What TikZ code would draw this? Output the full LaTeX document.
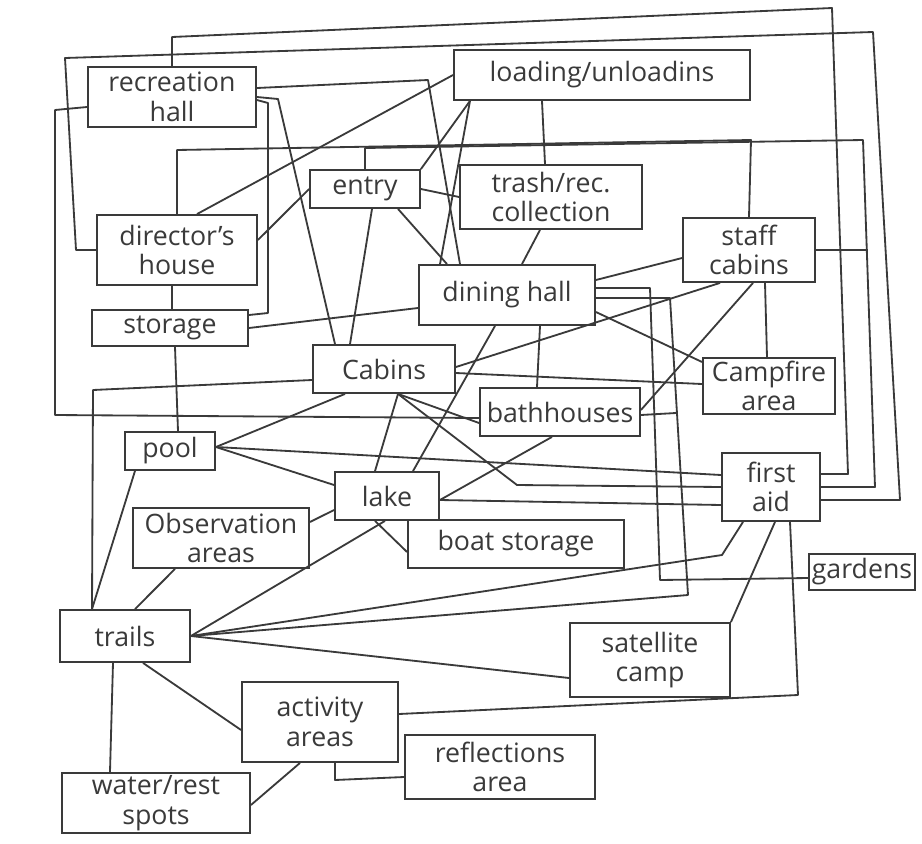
\documentclass[tikz,border=0pt]{standalone}
\usepackage{fontspec}
\setmainfont{Open Sans}
\definecolor{ink}{HTML}{3A3A3A}
\begin{document}
\begin{tikzpicture}[x=0.025cm,y=-0.025cm]
    \tikzstyle{place} = [rectangle, draw=ink, line width=1.3pt, align=center,
        inner sep=2pt, text=ink, font=\fontsize{19}{21}\selectfont]
    \tikzstyle{link} = [draw=ink, line width=1.3pt, line join=round]

    \useasboundingbox (0,0) rectangle (922,843);

    \node(rechall) [place, minimum width=4.2cm, minimum height=1.5cm]
        at (172,97) {recreation\\hall};
    \node(loading) [place, minimum width=7.4cm, minimum height=1.25cm]
        at (602,75) {loading/unloadins};
    \node(entry) [place, minimum width=2.75cm, minimum height=0.95cm]
        at (365,189) {entry};
    \node(trash) [place, minimum width=4.55cm, minimum height=1.6cm]
        at (551,197) {trash/rec.\\collection};
    \node(director) [place, minimum width=4cm, minimum height=1.75cm]
        at (177,250) {director's\\house};
    \node(storage) [place, minimum width=3.9cm, minimum height=0.9cm]
        at (170,328) {storage};
    \node(dining) [place, minimum width=4.4cm, minimum height=1.5cm]
        at (507,295) {dining hall};
    \node(staff) [place, minimum width=3.3cm, minimum height=1.6cm]
        at (749,250) {staff\\cabins};
    \node(cabins) [place, minimum width=3.55cm, minimum height=1.2cm]
        at (384,369) {Cabins};
    \node(campfire) [place, minimum width=3.3cm, minimum height=1.4cm]
        at (769,386) {Campfire\\area};
    \node(bath) [place, minimum width=4cm, minimum height=1.2cm]
        at (560,412) {bathhouses};
    \node(pool) [place, minimum width=2.25cm, minimum height=0.95cm]
        at (170,451) {pool};
    \node(firstaid) [place, minimum width=2.45cm, minimum height=1.7cm]
        at (771,487) {first\\aid};
    \node(lake) [place, minimum width=2.6cm, minimum height=1.2cm]
        at (387,496) {lake};
    \node(obs) [place, minimum width=4.4cm, minimum height=1.5cm]
        at (221,538) {Observation\\areas};
    \node(boat) [place, minimum width=5.4cm, minimum height=1.2cm]
        at (516,544) {boat storage};
    \node(gardens) [place, minimum width=2.6cm, minimum height=0.9cm]
        at (862,572) {gardens};
    \node(trails) [place, minimum width=3.25cm, minimum height=1.3cm]
        at (125,636) {trails};
    \node(satellite) [place, minimum width=4cm, minimum height=1.85cm]
        at (650,660) {satellite\\camp};
    \node(activity) [place, minimum width=3.9cm, minimum height=2cm]
        at (320,722) {activity\\areas};
    \node(reflections) [place, minimum width=4.75cm, minimum height=1.6cm]
        at (500,767) {reflections\\area};
    \node(water) [place, minimum width=4.7cm, minimum height=1.5cm]
        at (156,803) {water/rest\\spots};

    % long loops round the outside
    \draw[link] (rechall.north) -- (172,37) -- (832,8) -- (848,474)
        -- (firstaid.east |- 0,474);
    \draw[link] (director.west) -- (76,250) -- (65,58) -- (873,32)
        -- (900,500) -- (firstaid.east |- 0,500);
    \draw[link] (entry.north) -- (365,148) -- (863,140) -- (875,487)
        -- (firstaid.east);
    \draw[link] (staff.east) -- (868,250);
    \draw[link] (director.north) -- (177,150) -- (751,140) -- (staff.north);

    \draw[link] (rechall.east |- 0,88) -- (428,80) -- (dining.north -| 460,0);
    \draw[link] (rechall.east |- 0,100) -- (268,103) -- (268,313)
        -- (storage.east |- 0,315);
    \draw[link] (rechall.east |- 0,97) -- (278,99) -- (cabins.north -| 335,0);
    \draw[link] (rechall.west |- 0,107) -- (55,110) -- (55,415)
        -- (bath.west |- 0,418);

    \draw[link] (loading.west) -- (director.north -| 197,0);
    \draw[link] (loading.south -| 470,0) -- (entry.north east);
    \draw[link] (loading.south -| 470,0) -- (dining.north -| 440,0);
    \draw[link] (loading.south -| 542,0) -- (trash.north -| 545,0);
    \draw[link] (trash.south -| 540,0) -- (dining.north -| 522,0);
    \draw[link] (entry.east) -- (trash.west);
    \draw[link] (entry.south -| 372,0) -- (cabins.north -| 350,0);
    \draw[link] (entry.south -| 398,0) -- (dining.north -| 447,0);
    \draw[link] (director.east |- 0,240) -- (entry.west);
    \draw[link] (director.south -| 172,0) -- (storage.north -| 172,0);
    \draw[link] (storage.east) -- (dining.west |- 0,308);
    \draw[link] (storage.south -| 175,0) -- (pool.north -| 178,0);

    \draw[link] (dining.south -| 495,0) -- (lake.north -| 413,0);
    \draw[link] (dining.south -| 540,0) -- (bath.north -| 537,0);
    \draw[link] (dining.east |- 0,280) -- (staff.west |- 0,258);
    \draw[link] (dining.east |- 0,288) -- (650,288) -- (660,580)
        -- (gardens.west |- 0,578);
    \draw[link] (dining.east |- 0,298) -- (670,298) -- (688,595)
        -- (trails.east);
    \draw[link] (dining.east |- 0,312) -- (campfire.west |- 0,362);
    \draw[link] (bath.east |- 0,415) -- (676,413);

    \draw[link] (staff.south -| 753,0) -- (bath.east |- 0,410);
    \draw[link] (staff.south -| 720,0) -- (cabins.east |- 0,367);
    \draw[link] (staff.south -| 765,0) -- (campfire.north -| 767,0);

    \draw[link] (cabins.east |- 0,373) -- (campfire.west |- 0,384);
    \draw[link] (cabins.south -| 398,0) -- (lake.north -| 375,0);
    \draw[link] (cabins.south -| 398,0) -- (bath.west |- 0,423);
    \draw[link] (cabins.south -| 398,0) -- (517,485) -- (firstaid.west |- 0,487);
    \draw[link] (cabins.south -| 345,0) -- (pool.east |- 0,447);
    \draw[link] (cabins.west |- 0,380) -- (93,390) -- (trails.north -| 92,0);

    \draw[link] (pool.east |- 0,447) -- (firstaid.west |- 0,475);
    \draw[link] (pool.east |- 0,447) -- (lake.west |- 0,485);
    \draw[link] (pool.south -| 135,0) -- (trails.north -| 92,0);

    \draw[link] (lake.east |- 0,500) -- (bath.south -| 552,0);
    \draw[link] (lake.east |- 0,500) -- (firstaid.west |- 0,505);
    \draw[link] (lake.south -| 375,0) -- (boat.west |- 0,552);
    \draw[link] (lake.south -| 385,0) -- (trails.east);
    \draw[link] (lake.west |- 0,510) -- (obs.east |- 0,522);
    \draw[link] (obs.south -| 175,0) -- (trails.north -| 135,0);

    \draw[link] (firstaid.south -| 743,0) -- (722,555) -- (trails.east);
    \draw[link] (firstaid.south -| 775,0) -- (satellite.north east);
    \draw[link] (firstaid.south -| 790,0) -- (798,695)
        -- (activity.east |- 0,714);
    \draw[link] (trails.east) -- (satellite.west |- 0,678);

    \draw[link] (trails.south -| 113,0) -- (water.north -| 110,0);
    \draw[link] (trails.south -| 143,0) -- (activity.west |- 0,730);
    \draw[link] (activity.south -| 300,0) -- (water.east |- 0,805);
    \draw[link] (activity.south -| 335,0) -- (335,780)
        -- (reflections.west |- 0,777);
\end{tikzpicture}
\end{document}
